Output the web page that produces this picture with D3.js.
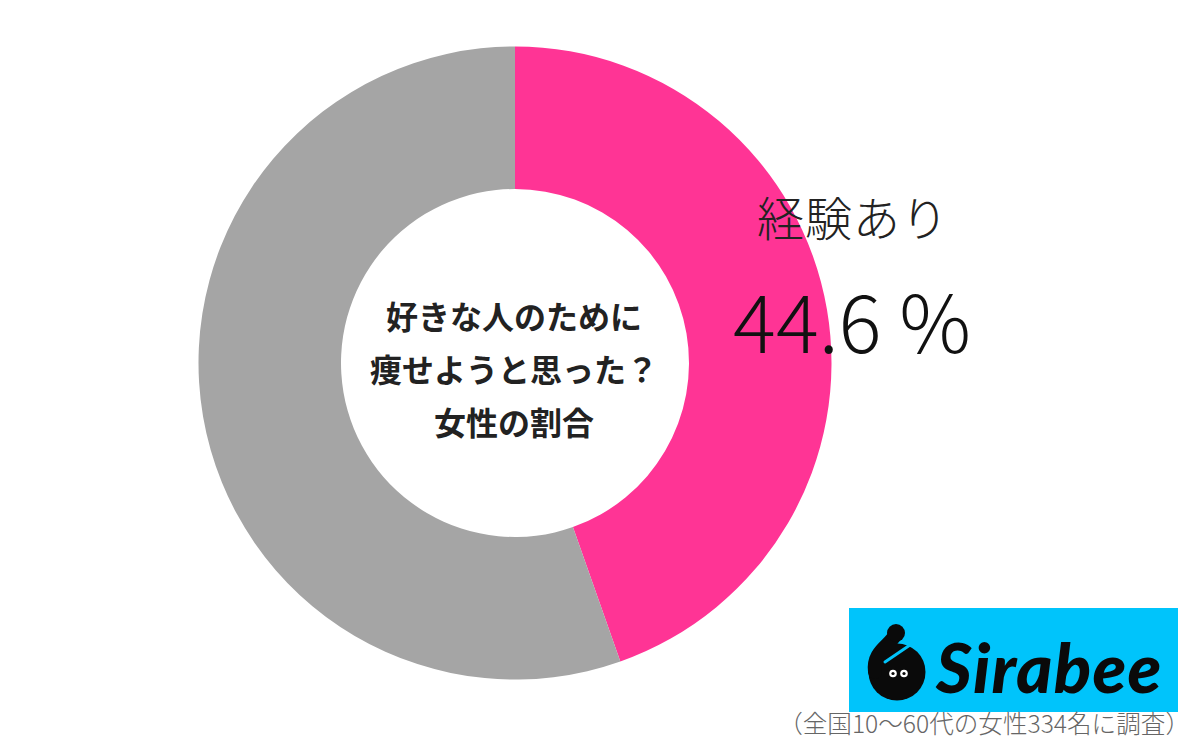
<!DOCTYPE html>
<html><head><meta charset="utf-8">
<style>html,body{margin:0;background:#fff}svg{display:block}text{font-family:"Noto Sans CJK JP",sans-serif}</style>
<script src="https://cdn.jsdelivr.net/npm/d3@7"></script></head><body>
<svg id="c" width="1200" height="751"></svg>
<script>
const categories=["経験あり","経験なし"];
const values=[44.6,55.4];
const colors=["#ff3495","#a5a5a5"];
const titleLines=["好きな人のために","痩せようと思った？","女性の割合"];
const labelName="経験あり";
const labelValue="44.6 %";
const brand="Sirabee";
const note="（全国10～60代の女性334名に調査）";
const svg=d3.select("#c");
const g=svg.append("g").attr("transform","translate(515,363)");
const pie=d3.pie().sort(null)(values);
const arc=d3.arc().innerRadius(174).outerRadius(316.5);
g.selectAll("path").data(pie).join("path").attr("d",arc).attr("fill",(d,i)=>colors[i]);
svg.selectAll("text.t").data(titleLines).join("text").attr("class","t")
 .attr("x",514).attr("y",(d,i)=>329+i*53).attr("text-anchor","middle")
 .attr("font-size",32).attr("font-weight",700).attr("fill","#222").text(d=>d);
svg.append("text").attr("x",853).attr("y",236).attr("text-anchor","middle").attr("font-size",47).attr("font-weight",300).attr("letter-spacing",1).attr("fill","#222").text(labelName);
svg.append("text").attr("x",852).attr("y",353).attr("text-anchor","middle").attr("font-size",80).attr("font-weight",300).attr("fill","#111").text(labelValue);
svg.append("rect").attr("x",849).attr("y",608).attr("width",329).attr("height",104).attr("fill","#00c4fb");
const logo=svg.append("g");
logo.append("circle").attr("cx",897).attr("cy",672).attr("r",28.5).attr("fill","#0a0a0a");
logo.append("path").attr("d","M896 633 C892 645 872 650 875 672").attr("fill","none").attr("stroke","#0a0a0a").attr("stroke-width",14).attr("stroke-linecap","round");
logo.append("circle").attr("cx",896).attr("cy",633).attr("r",9).attr("fill","#0a0a0a");
logo.append("path").attr("d","M885 662 L910 645").attr("fill","none").attr("stroke","#00c4fb").attr("stroke-width",3).attr("stroke-linecap","round");
[893,904].forEach(x=>{
 logo.append("circle").attr("cx",x).attr("cy",673.5).attr("r",3.8).attr("fill","#fff");
 logo.append("circle").attr("cx",x).attr("cy",673.5).attr("r",1.6).attr("fill","#0a0a0a");
});
svg.append("text").attr("x",936).attr("y",693).attr("font-size",69).attr("font-weight",900).attr("font-style","italic").attr("letter-spacing",1.2).attr("fill","#0a0a0a").style("font-family","Lato,sans-serif").text(brand);
svg.append("text").attr("x",1190).attr("y",733).attr("text-anchor","end").attr("font-size",24.6).attr("font-weight",300).attr("fill","#666").text(note);
</script></body></html>
